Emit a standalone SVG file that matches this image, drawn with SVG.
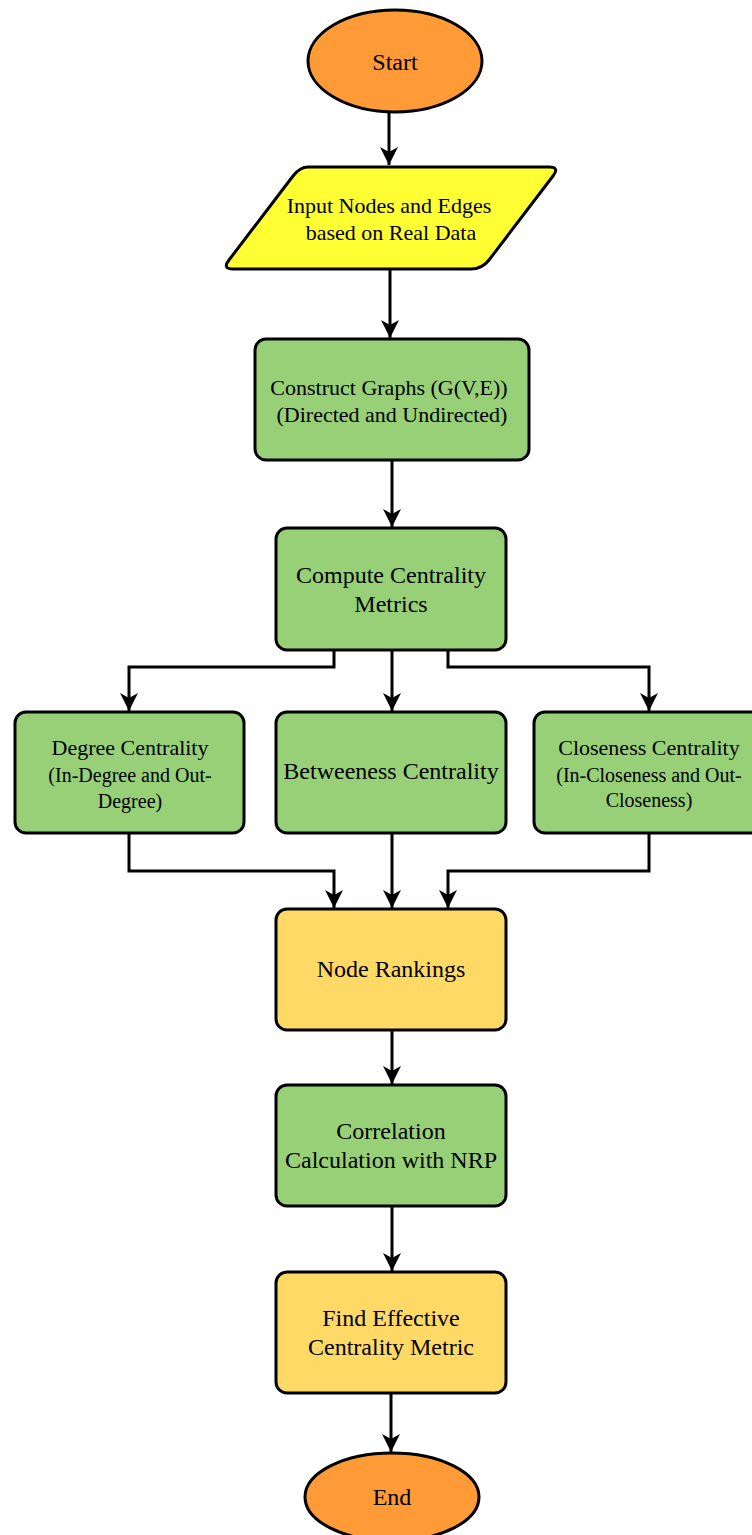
<svg xmlns="http://www.w3.org/2000/svg" width="752" height="1535" viewBox="0 0 752 1535">
<style>
.n{stroke:#000;stroke-width:3}
.o{fill:#FF9B36}
.y{fill:#FFFF33}
.g{fill:#97D077}
.ly{fill:#FFD966}
text{font-family:"Liberation Serif","Times New Roman",serif;fill:#000;text-anchor:middle}
.t24{font-size:24px}
.t22{font-size:22px}
.t20{font-size:20px}
.c{fill:none;stroke:#000;stroke-width:3}
</style>
<defs>
<marker id="ah" markerUnits="userSpaceOnUse" markerWidth="19" markerHeight="19" viewBox="0 0 19 19" refX="18" refY="9" orient="auto">
<path d="M0,0 L18,9 L0,18 L5,9 z" fill="#000"/>
</marker>
</defs>
<g id="connectors">
<path class="c" d="M389,113 V165" marker-end="url(#ah)"/>
<path class="c" d="M390,270 V338" marker-end="url(#ah)"/>
<path class="c" d="M392,461 V527" marker-end="url(#ah)"/>
<path class="c" d="M334,651 V667 H129 V711" marker-end="url(#ah)"/>
<path class="c" d="M392,651 V711" marker-end="url(#ah)"/>
<path class="c" d="M448,651 V667 H649 V711" marker-end="url(#ah)"/>
<path class="c" d="M129,834 V871 H334 V908" marker-end="url(#ah)"/>
<path class="c" d="M392,834 V908" marker-end="url(#ah)"/>
<path class="c" d="M649,834 V871 H448 V908" marker-end="url(#ah)"/>
<path class="c" d="M392,1031 V1084" marker-end="url(#ah)"/>
<path class="c" d="M392,1207 V1271" marker-end="url(#ah)"/>
<path class="c" d="M391,1394 V1452" marker-end="url(#ah)"/>
</g>
<g id="start">
<ellipse class="n o" cx="395" cy="61" rx="87" ry="51"/>
<text class="t24" x="395" y="70">Start</text>
</g>
<g id="input">
<path class="n y" d="M308,167 H549 Q560,167 553,176 L489,260 Q482,269 471,269 H233 Q222,269 229,260 L293,176 Q300,167 308,167 Z"/>
<text class="t22" x="389" y="213">Input Nodes and Edges</text>
<text class="t22" x="391" y="240">based on Real Data</text>
</g>
<g id="construct">
<rect class="n g" x="255" y="339" width="274" height="121" rx="11"/>
<text class="t22" x="389" y="395">Construct Graphs (G(V,E))</text>
<text class="t22" x="392" y="422">(Directed and Undirected)</text>
</g>
<g id="compute">
<rect class="n g" x="276" y="528" width="230" height="122" rx="11"/>
<text class="t24" x="391" y="583">Compute Centrality</text>
<text class="t24" x="391" y="612">Metrics</text>
</g>
<g id="degree">
<rect class="n g" x="15" y="712" width="229" height="121" rx="11"/>
<text class="t22" x="130" y="755">Degree Centrality</text>
<text class="t20" x="130" y="782">(In-Degree and Out-</text>
<text class="t20" x="130" y="808">Degree)</text>
</g>
<g id="betweeness">
<rect class="n g" x="276" y="712" width="230" height="121" rx="11"/>
<text class="t24" x="391" y="779">Betweeness Centrality</text>
</g>
<g id="closeness">
<rect class="n g" x="534" y="712" width="230" height="121" rx="11"/>
<text class="t22" x="649" y="755">Closeness Centrality</text>
<text class="t20" x="649" y="782">(In-Closeness and Out-</text>
<text class="t20" x="649" y="807">Closeness)</text>
</g>
<g id="rankings">
<rect class="n ly" x="276" y="909" width="230" height="121" rx="11"/>
<text class="t24" x="391" y="977">Node Rankings</text>
</g>
<g id="correlation">
<rect class="n g" x="276" y="1085" width="230" height="121" rx="11"/>
<text class="t24" x="391" y="1139">Correlation</text>
<text class="t24" x="391" y="1168">Calculation with NRP</text>
</g>
<g id="effective">
<rect class="n ly" x="276" y="1272" width="230" height="121" rx="11"/>
<text class="t24" x="391" y="1326">Find Effective</text>
<text class="t24" x="391" y="1355">Centrality Metric</text>
</g>
<g id="end">
<ellipse class="n o" cx="392" cy="1497" rx="87" ry="44"/>
<text class="t24" x="392" y="1505">End</text>
</g>
</svg>
